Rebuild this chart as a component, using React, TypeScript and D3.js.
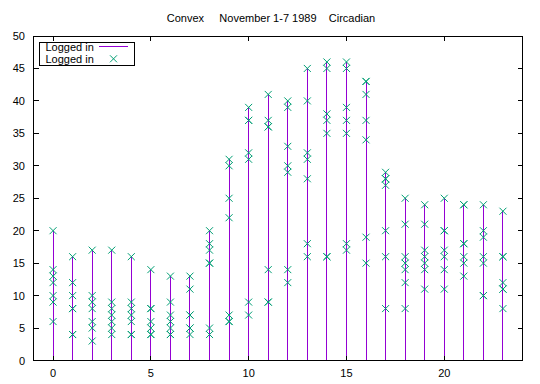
import React from "react";
import * as d3 from "d3";

const hours: number[] = [0,1,2,3,4,5,6,7,8,9,10,11,12,13,14,15,16,17,18,19,20,21,22,23];
const loggedIn: number[][] = [
  [20, 14, 13, 12, 10, 9, 6],
  [16, 12, 10, 8, 8, 4, 4],
  [17, 10, 9, 8, 6, 5, 3],
  [17, 9, 8, 7, 6, 5, 4],
  [16, 9, 8, 7, 6, 4, 4],
  [14, 8, 8, 6, 5, 4, 4],
  [13, 9, 7, 6, 5, 4, 4],
  [13, 11, 7, 7, 5, 5, 4],
  [20, 18, 17, 15, 15, 5, 4],
  [31, 30, 25, 22, 7, 6, 6],
  [39, 37, 37, 32, 31, 9, 7],
  [41, 37, 36, 36, 14, 9, 9],
  [40, 39, 33, 30, 29, 14, 12],
  [45, 40, 32, 31, 28, 18, 16],
  [46, 45, 38, 37, 35, 16, 16],
  [46, 45, 39, 37, 35, 18, 17],
  [43, 43, 41, 37, 34, 19, 15],
  [29, 28, 28, 27, 20, 16, 8],
  [25, 21, 16, 15, 14, 12, 8],
  [24, 21, 17, 16, 15, 14, 11],
  [25, 20, 20, 17, 16, 14, 11],
  [24, 24, 18, 18, 16, 15, 13],
  [24, 20, 19, 16, 15, 10, 10],
  [23, 16, 16, 12, 11, 11, 8],
];
const xTicks: number[] = [0, 5, 10, 15, 20];
const yTicks: number[] = [0, 5, 10, 15, 20, 25, 30, 35, 40, 45, 50];
const title = "Convex     November 1-7 1989    Circadian";
const legendLabels: string[] = ["Logged in", "Logged in"];

const W = 540, H = 384;
const L = 33.5, R = 522.5, T = 36, B = 360.5;
const LINE = "#9400d3";
const PT = "#009e73";
const FONT = "'Liberation Sans', Arial, sans-serif";

export default function App() {
  const x = d3.scaleLinear().domain([-1, 24]).range([L, R]);
  const y = d3.scaleLinear().domain([0, 50]).range([B, T]);
  const tl = 5;
  const ps = 3.5;
  const cross = (cx: number, cy: number, key: string) => (
    <path key={key} d={`M${cx - ps},${cy - ps}L${cx + ps},${cy + ps}M${cx - ps},${cy + ps}L${cx + ps},${cy - ps}`} stroke={PT} strokeWidth={1} fill="none" />
  );
  return (
    <svg width={W} height={H} style={{ position: "absolute", left: 0, top: 0, background: "#fff" }} fontFamily={FONT} fontSize={11}>
      <rect x={0} y={0} width={W} height={H} fill="#fff" />
      <text x={271} y={22} textAnchor="middle" style={{ whiteSpace: "pre" }}>{title}</text>
      {/* impulses */}
      {hours.map((h, i) =>
        loggedIn[i].map((v, j) => (
          <line key={`i${i}-${j}`} x1={x(h)} x2={x(h)} y1={y(0)} y2={y(v)} stroke={LINE} strokeWidth={1} shapeRendering="crispEdges" />
        ))
      )}
      {/* points */}
      {hours.map((h, i) => loggedIn[i].map((v, j) => cross(x(h), y(v), `p${i}-${j}`)))}
      {/* ticks */}
      {yTicks.map((t) => (
        <g key={`y${t}`}>
          <line x1={L} x2={L + tl} y1={y(t)} y2={y(t)} stroke="#000" shapeRendering="crispEdges" />
          <line x1={R} x2={R - tl} y1={y(t)} y2={y(t)} stroke="#000" shapeRendering="crispEdges" />
          <text x={25} y={y(t) + 4} textAnchor="end">{t}</text>
        </g>
      ))}
      {xTicks.map((t) => (
        <g key={`x${t}`}>
          <line x1={x(t)} x2={x(t)} y1={B} y2={B - tl} stroke="#000" shapeRendering="crispEdges" />
          <line x1={x(t)} x2={x(t)} y1={T} y2={T + tl} stroke="#000" shapeRendering="crispEdges" />
          <text x={x(t)} y={377} textAnchor="middle">{t}</text>
        </g>
      ))}
      <rect x={L} y={T} width={R - L} height={B - T} fill="none" stroke="#000" strokeWidth={1} shapeRendering="crispEdges" />
      {/* legend */}
      <rect x={39.5} y={42} width={95} height={23} fill="#fff" stroke="#000" shapeRendering="crispEdges" />
      <text x={45.5} y={50.7}>{legendLabels[0]}</text>
      <line x1={99} x2={128.3} y1={46.7} y2={46.7} stroke={LINE} strokeWidth={1} shapeRendering="crispEdges" />
      <text x={45.5} y={62.5}>{legendLabels[1]}</text>
      {cross(113.5, 58.8, "legpt")}
    </svg>
  );
}
